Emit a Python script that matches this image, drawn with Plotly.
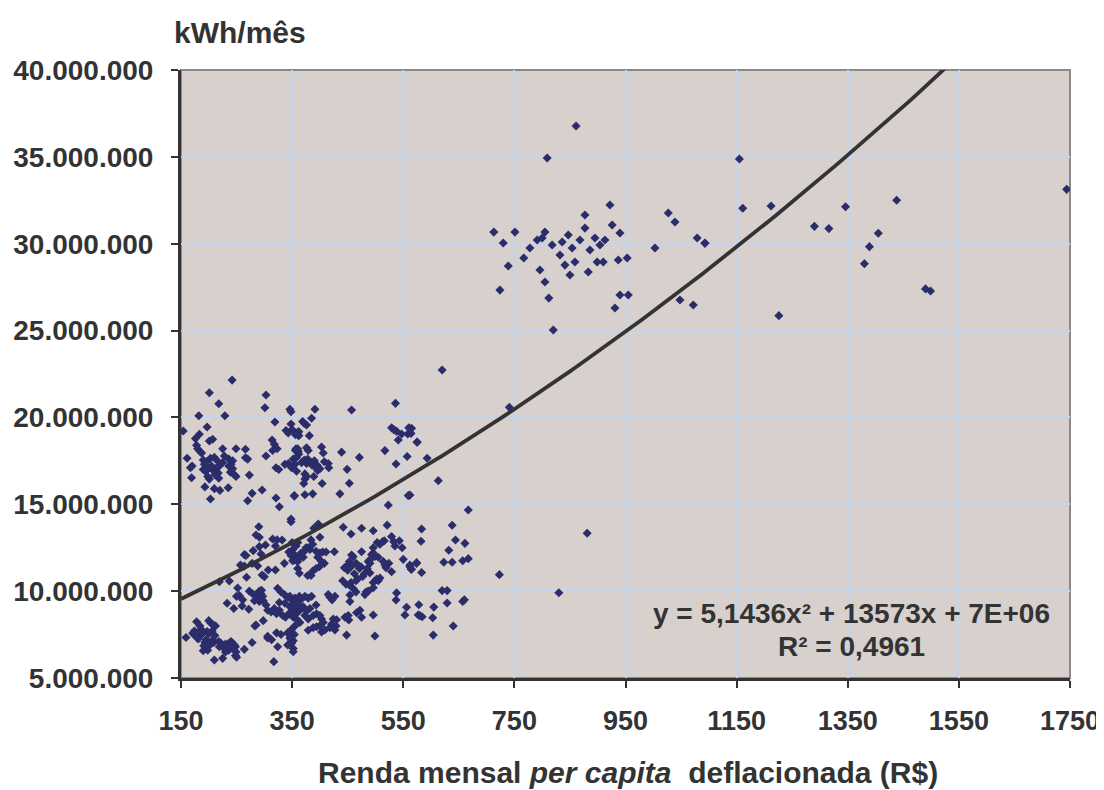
import plotly.graph_objects as go

# ---- data: (renda R$, consumo em milhões kWh/mês) ----
grupo_baixo_esq = [(178,8.24),(200,8.30),(204,8.15),(208,8.05),(212,8.0),(184,8.0),(186,7.8),(174,7.7),(171,7.57),(159,7.33),
    (187,7.75),(190,7.6),(185,7.45),(182,7.4),(178,7.35),(181,7.25),(176,7.5),(197,7.68),(200,7.55),(206,7.7),(211,7.45),
    (195,7.2),(193,7.05),(198,6.95),(191,6.85),(196,6.8),(202,6.9),(209,7.05),(207,7.2),
    (218,7.1),(222,7.0),(225,6.85),(219,6.8),(228,6.7),(230,6.95),(233,6.85),(236,7.0),(240,7.1),(243,7.0),(246,6.9),
    (248,6.8),(243,6.7),(236,6.6),(230,6.5),(249,6.5),(248,6.3),(250,6.2),(198,6.6),(190,6.57),(210,6.04),(225,6.13),
    (278,7.04),(264,6.65)]

grupo_baixo_meio = [(324,10.16),(330,9.95),(336,9.8),(342,9.65),(303,9.2),(306,8.9),(312,8.8),(318,9.0),(322,8.7),(327,8.9),
    (333,8.6),(338,8.5),(344,8.7),(350,8.6),(354,8.9),(357,8.7),(346,9.1),(337,9.3),(327,9.35),(360,8.8),(362,9.2),(363,9.7),
    (298,8.3),(283,8.0),(322,7.6),(306,7.4),(306,7.3),(313,7.2),(330,7.5),(342,7.6),(345,7.5),(354,7.5),(348,7.2),(349,7.0),
    (324,6.8),(342,6.9),(352,6.7),(317,5.94),(352,6.51),(285,8.05),
    (346,9.7),(349,9.5),(355,9.6),(358,9.4),(361,9.6),(367,9.55),(373,9.7),(379,9.6),(385,9.7),(352,9.2),(358,9.0),(364,8.9),
    (370,9.1),(376,8.85),(382,9.0),(346,8.7),(352,8.5),(358,8.4),(364,8.2),(355,8.0),(349,7.8),(373,8.6),(379,8.4),(388,8.6),
    (394,8.7),(400,8.6),(403,8.4),(406,8.2),(400,8.0),(394,7.95),(388,7.9),(379,7.75),(403,7.65),(346,7.3),(352,7.15),
    (349,7.05),(393,9.2),(415,9.8),(418,9.65),(422,9.5),(427,9.7),(454,9.78),(454,9.4),(472,8.9),(466,8.76),(475,8.5),
    (424,8.4),(430,8.35),(421,8.1),(429,8.0),(418,7.9),(427,7.76),(445,8.5),(451,8.6),(452,8.34),(409,7.76),(448,7.47),
    (496,8.63),(499,7.42),(556,9.07),(553,8.63),(577,8.63),(537,9.49),(538,9.9)]

grupo_meio = [(290,13.71),(348,14.0),(285,13.23),(291,13.1),(315,13.0),(323,12.95),(332,12.94),(302,12.66),(291,12.56),
    (320,12.6),(280,12.33),(264,12.1),(267,12.05),(294,12.14),(344,12.25),(348,12.05),(353,11.8),(351,11.75),(360,11.7),
    (362,12.0),(366,12.2),(336,11.6),(257,11.5),(264,11.45),(278,11.6),(288,11.45),(307,11.22),(320,11.22),(237,10.58),
    (219,10.54),(363,11.03),(268,10.8),(300,10.83),(296,10.93),(252,10.18),(250,9.7),(255,9.75),(273,10.0),(279,9.85),
    (285,9.8),(291,10.0),(294,9.85),(297,9.7),(288,9.55),(282,9.45),(291,9.4),(298,9.45),(295,10.05),(261,9.5),(260,9.15),
    (233,9.3),(245,9.0),(272,8.96),
    (397,13.86),(389,13.62),(442,13.68),(475,13.62),(496,13.48),(521,13.8),(456,13.29),(400,13.1),
    (384,12.95),(387,12.7),(378,12.5),(372,12.3),(382,12.4),(393,12.3),(400,12.2),(405,12.25),(411,12.25),(396,11.95),
    (403,11.7),(408,11.6),(399,11.4),(393,11.3),(387,11.15),(378,10.9),(384,10.9),(360,11.3),(366,12.0),(357,12.6),
    (354,12.1),(355,11.8),(351,12.4),(350,12.8),(360,12.8),(370,11.95),(375,12.5),
    (426,12.27),(475,12.27),(457,12.08),(460,11.98),(453,11.7),(450,11.5),(456,11.4),(465,11.6),(468,11.5),(471,11.3),
    (474,11.4),(462,11.0),(468,10.7),(477,10.85),(480,11.0),(465,10.6),(456,10.5),(453,10.35),(460,10.15),(465,9.95),
    (447,10.4),(441,10.6),(444,11.35),(450,11.2),
    (487,11.7),(490,11.6),(493,12.1),(496,12.2),(499,12.0),(505,11.95),(508,12.7),(513,12.85),(516,12.9),(503,12.8),
    (496,12.5),(490,11.8),(485,11.3),(490,11.05),(496,10.5),(502,10.7),(508,10.75),(505,10.6),(496,10.2),(483,9.95),
    (481,9.8),(487,10.0),(514,11.7),(517,11.5),(524,11.6),(519,11.35),(529,11.12),(529,13.14),(533,12.85),(535,12.6),
    (543,12.9),(548,12.5),(550,11.83),(562,11.4),(564,11.26),(574,11.6),
    (583,13.58),(638,13.79),(582,12.87),(644,12.94),(661,12.75),(632,12.35),(574,11.64),(562,11.5),(565,11.26),(623,11.66),
    (638,11.66),(657,11.75),(667,11.87),(583,11.07),(723,10.95),(620,10.03),(629,10.03),(830,9.91),(578,9.22),(629,9.32),
    (657,9.4),(660,9.5),(605,9.08),(580,8.59),(584,8.53),(603,8.47),(640,7.99),(604,7.47),(881,13.33)]

grupo_alto_esq = [(201,21.42),(303,21.29),(218,20.79),(301,20.56),(182,20.10),(229,20.10),(346,20.47),(348,20.33),(319,19.74),
    (348,19.62),(154,19.22),(197,19.45),(339,19.25),(343,19.1),(350,19.3),(356,19.0),(360,19.15),(362,18.95),(183,19.03),
    (176,18.78),(207,18.74),(201,18.64),(178,18.4),(180,18.2),(184,18.05),(187,17.95),(314,18.7),(318,18.45),(323,18.2),
    (225,18.2),(249,18.2),(266,18.17),(161,17.65),
    (190,17.55),(196,17.45),(192,17.3),(203,17.65),(210,17.7),(214,17.55),(205,17.2),(199,17.05),(208,16.95),(214,17.1),
    (219,17.2),(225,17.4),(217,16.8),(211,16.7),(218,16.5),(201,16.45),(198,16.6),(194,16.9),(190,17.0),
    (170,17.2),(167,17.1),(169,16.53),(236,17.6),(243,17.5),(240,17.3),(236,17.2),(243,17.05),(239,16.85),(246,16.7),
    (249,16.6),(228,17.78),(266,17.68),(270,17.6),(273,16.68),(193,16.0),(210,15.9),(220,15.8),(235,15.95),(203,15.3),
    (303,17.78),(315,18.1),(321,17.1),(326,17.0),(337,17.3),(343,17.35),(349,17.1),(355,17.3),(352,17.6),(358,17.7),
    (360,18.2),(356,18.1),(362,17.9),(296,15.82),(278,15.63),(270,15.2),(321,15.36),(327,14.86),(354,15.47),(348,14.15),
    (242,22.15),
    (391,20.47),(457,20.43),(536,20.81),(385,19.95),(369,19.76),(372,19.65),(376,19.56),(362,19.18),(360,19.0),(381,18.95),
    (529,19.4),(533,19.3),(538,19.2),(547,19.05),(560,19.4),(558,19.05),(541,18.7),(575,18.58),(357,18.2),(361,18.05),
    (376,18.25),(379,18.1),(403,18.3),(406,17.95),(439,18.0),(517,18.09),(471,17.7),(557,17.75),
    (367,17.4),(372,17.55),(376,17.35),(378,17.6),(382,17.45),(390,17.5),(386,17.25),(392,17.15),(395,17.25),(400,17.05),
    (396,16.95),(408,17.45),(415,17.35),(416,17.1),(449,17.01),(537,17.32),(358,16.9),(373,16.75),(376,16.6),(373,16.45),
    (371,16.2),(389,16.6),(404,16.2),(453,16.21),(354,15.5),(373,15.55),(387,15.6),(436,15.6),(559,15.5),(523,14.95),
    (741,20.58),(565,19.37),(564,19.08),(575,18.57),(593,17.65),(613,16.36),(562,15.53),(667,14.67),(620,22.73)]

grupo_alto_dir = [(809,34.93),(861,36.78),(713,30.67),(730,30.04),(724,27.33),(739,28.72),(751,30.67),(767,29.18),(778,29.75),
    (791,30.21),(800,30.33),(805,30.67),(818,29.93),(796,28.49),(805,27.80),(812,26.87),(820,25.03),(832,29.35),(841,28.77),
    (836,30.10),(847,30.50),(854,29.75),(859,28.95),(868,30.21),(877,30.90),(886,29.64),(895,30.33),(904,29.93),(913,30.21),
    (926,31.08),(940,30.62),(910,28.95),(931,26.30),(940,27.05),(937,29.06),(953,29.18),(955,27.05),(877,31.65),(899,28.95),
    (850,28.20),(1027,31.77),(1039,31.25),(1048,26.76),(1079,30.33),(1093,30.04),(1072,26.47),(883,28.37),(922,32.23),
    (1003,29.75),
    (1155,34.88),(1093,30.02),(1161,32.04),(1212,32.17),(1290,31.0),(1316,30.87),(1346,32.13),(1405,30.6),(1389,29.83),
    (1380,28.85),(1226,25.86),(1438,32.5),(1490,27.4),(1499,27.28),(1744,33.13)]

# trend line: y = a x^2 + b x + c (constant displayed rounded as 7E+06)
coef_tendencia = [5.1436, 13573, 7.4e6]
x_tendencia = [150 + 10 * i for i in range(161)]

x_ticks = [150, 350, 550, 750, 950, 1150, 1350, 1550, 1750]
y_ticks = [5e6, 10e6, 15e6, 20e6, 25e6, 30e6, 35e6, 40e6]
y_ticktext = ["5.000.000", "10.000.000", "15.000.000", "20.000.000", "25.000.000",
              "30.000.000", "35.000.000", "40.000.000"]

pontos = grupo_baixo_esq + grupo_baixo_meio + grupo_meio + grupo_alto_esq + grupo_alto_dir
renda = [p[0] for p in pontos]
consumo = [p[1] * 1e6 for p in pontos]
a, b, c = coef_tendencia
y_tendencia = [a * x * x + b * x + c for x in x_tendencia]

FONT = "Liberation Sans, Arial, sans-serif"
TXT = "#333333"
OFF = 8                      # page body margin of the html page
W, H = 1104 - OFF, 790 - OFF
L, T = 181 - OFF, 70 - OFF   # plot area in the target picture: x 181..1070, y 70..678
PW, PH = 889, 608
R, B = W - L - PW, H - T - PH


def px(xp):
    return (xp - OFF - L) / PW


def py(yp):
    return (H - B - (yp - OFF)) / PH


fig = go.Figure()
fig.add_trace(go.Scatter(x=renda, y=consumo, mode="markers",
                         marker=dict(symbol="diamond", size=7, color="#2B2D6B", line=dict(width=0)),
                         showlegend=False, hoverinfo="x+y"))
fig.add_trace(go.Scatter(x=x_tendencia, y=y_tendencia, mode="lines",
                         line=dict(color="#333333", width=3.8), showlegend=False, hoverinfo="skip"))

fig.update_layout(
    width=W, height=H,
    margin=dict(l=L, r=R, t=T, b=B, autoexpand=False),
    paper_bgcolor="white", plot_bgcolor="#D8D0CD",
    font=dict(family=FONT, size=27, color=TXT),
    xaxis=dict(range=[150, 1750], tickvals=x_ticks, ticktext=[str(v) for v in x_ticks],
               showgrid=True, gridcolor="#C4D4EC", gridwidth=1.5, zeroline=False,
               showline=True, linecolor="#333333", linewidth=3, automargin=False,
               ticks="outside", ticklen=7, tickwidth=1.5, tickcolor="#333333",
               tickfont=dict(family=FONT, size=27, color=TXT, weight="bold"),
               ticklabelstandoff=10),
    yaxis=dict(range=[5e6, 40e6], tickvals=y_ticks, ticktext=y_ticktext,
               showgrid=True, gridcolor="#C4D4EC", gridwidth=1.5, zeroline=False,
               showline=True, linecolor="#333333", linewidth=3, automargin=False,
               ticks="outside", ticklen=7, tickwidth=1.5, tickcolor="#333333",
               tickfont=dict(family=FONT, size=28, color=TXT, weight="bold"),
               ticklabelstandoff=12),
    shapes=[dict(type="rect", xref="paper", yref="paper", x0=0, x1=1, y0=0, y1=1,
                 line=dict(color="#8A8A8A", width=2), fillcolor="rgba(0,0,0,0)", layer="below")],
    annotations=[
        dict(text="<b>kWh/mês</b>", xref="paper", yref="paper", x=px(172), y=py(32),
             xanchor="left", yanchor="middle", showarrow=False, font=dict(size=30, color=TXT)),
        dict(text="<b>Renda mensal <i>per capita</i> &nbsp;deflacionada (R$)</b>", xref="paper", yref="paper",
             x=px(628), y=py(772), xanchor="center", yanchor="middle", showarrow=False,
             font=dict(size=30, color=TXT)),
        dict(text="<b>y = 5,1436x² + 13573x + 7E+06</b>", xref="paper", yref="paper",
             x=px(851), y=py(613), xanchor="center", yanchor="middle", showarrow=False,
             font=dict(size=28, color=TXT)),
        dict(text="<b>R² = 0,4961</b>", xref="paper", yref="paper",
             x=px(851), y=py(646), xanchor="center", yanchor="middle", showarrow=False,
             font=dict(size=28, color=TXT)),
    ],
)

fig.write_html("out.html")
